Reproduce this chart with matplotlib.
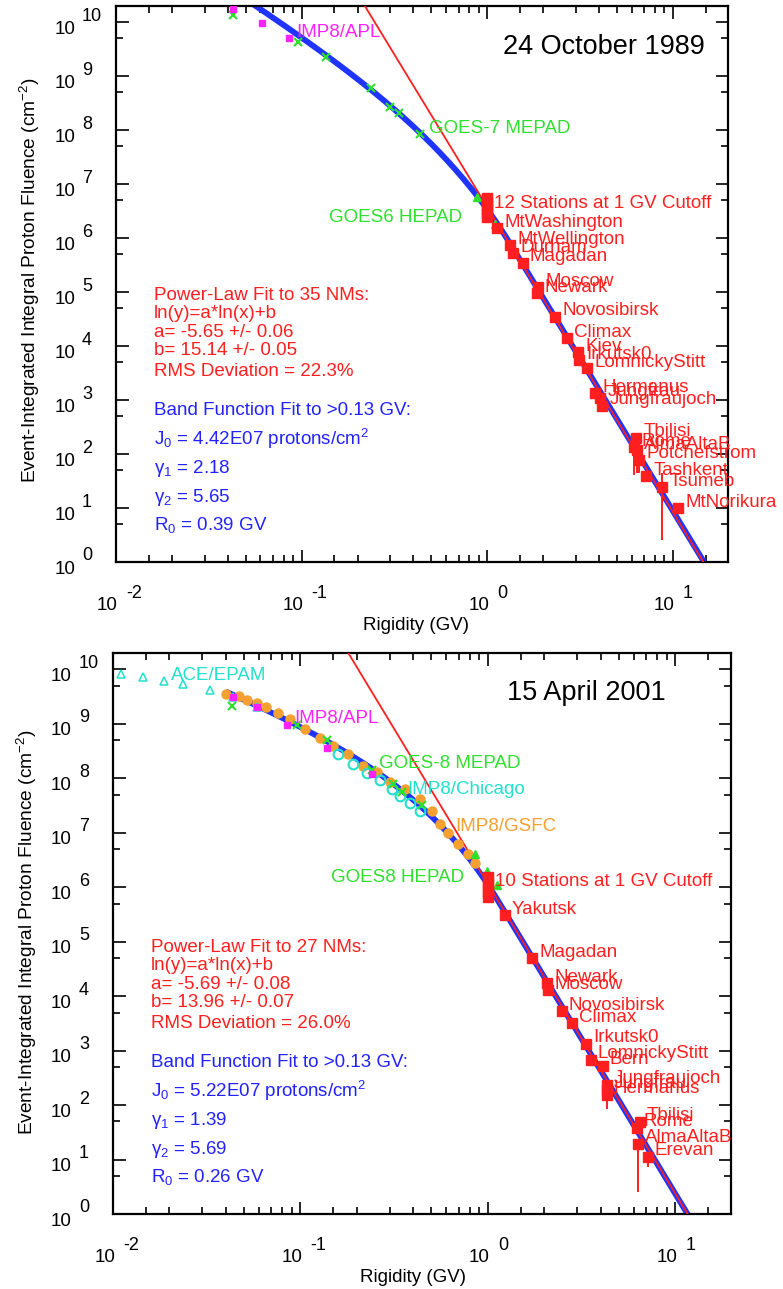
import numpy as np
import matplotlib
matplotlib.use('Agg')
import matplotlib.pyplot as plt
from matplotlib import transforms
from matplotlib.ticker import LogLocator, NullFormatter

plt.rcParams['font.family'] = ['Liberation Sans', 'DejaVu Sans']
plt.rcParams['mathtext.fontset'] = 'custom'
plt.rcParams['mathtext.rm'] = 'Liberation Sans'
plt.rcParams['mathtext.it'] = 'Liberation Sans'
plt.rcParams['mathtext.default'] = 'regular'

# ---------------- 24 October 1989 ----------------
ev1_title = '24 October 1989'
ev1_apl_r = [0.0428, 0.0612, 0.0857]
ev1_apl_f = [1.74e10, 9.6e9, 5.0e9]
ev1_mepad_r = [0.0428, 0.0957, 0.1355, 0.237, 0.30, 0.336, 0.435]
ev1_mepad_f = [1.35e10, 4.26e9, 2.24e9, 6.0e8, 2.7e8, 2.05e8, 8.5e7]
ev1_hepad_r = [0.883, 0.99, 1.10]
ev1_hepad_f = [5.7e6, 3.3e6, 1.8e6]
ev1_cut_f = [5.5e6, 4.6e6, 4.0e6, 3.4e6, 2.9e6, 2.5e6]   # stations at 1 GV
ev1_nm_names = ['MtWashington', 'MtWellington', 'Durham', 'Magadan', 'Moscow',
                'Newark', 'Novosibirsk', 'Climax', 'Kiev', 'Irkutsk0',
                'LomnickyStitt', 'Hermanus', 'Jungfrau', 'Jungfraujoch',
                'Tbilisi', 'Rome', 'AlmaAltaB', 'Potchefstrom', 'Tashkent',
                'Tsumeb', 'MtNorikura']
ev1_nm_r = [1.13, 1.33, 1.38, 1.55, 1.88, 1.86, 2.33, 2.70, 3.09, 3.13, 3.46,
            3.82, 4.06, 4.17, 6.35, 6.20, 6.44, 6.59, 7.19, 8.78, 10.7]
ev1_nm_f = [1.53e6, 7.4e5, 5.2e5, 3.5e5, 1.23e5, 9.5e4, 3.5e4, 1.4e4, 7.7e3,
            5.5e3, 3.9e3, 1.35e3, 1.1e3, 7.8e2, 2.0e2, 1.35e2, 1.18e2, 78,
            39, 24.5, 10]
ev1_nm_lo = [1.4e6, 6.9e5, 4.8e5, 3.2e5, 1.1e5, 8.8e4, 3.2e4, 1.3e4, 7.0e3,
             5.0e3, 3.6e3, 1.2e3, 1.0e3, 6.0e2, 1.7e2, 41, 45, 45, 33, 2.6, 9]
ev1_nm_hi = [1.66e6, 8.0e5, 5.6e5, 3.8e5, 1.35e5, 1.02e5, 3.8e4, 1.5e4, 8.4e3,
             6.0e3, 4.2e3, 1.5e3, 1.2e3, 8.6e2, 2.4e2, 1.5e2, 1.3e2, 86, 45,
             45, 11]
ev1_pl = dict(a=-5.65, b=15.14, da=0.06, db=0.05, n=35, rms=22.3)
ev1_band = dict(j0=4.42e7, g1=2.18, g2=5.65, r0=0.39)

# ---------------- 15 April 2001 ----------------
ev2_title = '15 April 2001'
ev2_ace_r = [0.0110, 0.01445, 0.0187, 0.0236, 0.0329, 0.0436, 0.0586]
ev2_ace_f = [8.1e9, 7.1e9, 6.0e9, 5.3e9, 4.1e9, 3.05e9, 2.08e9]
ev2_apl_r = [0.0436, 0.0586, 0.0847, 0.138, 0.24]
ev2_apl_f = [3.05e9, 2.08e9, 9.7e8, 3.66e8, 1.22e8]
ev2_mepad_r = [0.0431, 0.0957, 0.138, 0.24, 0.311, 0.347, 0.445]
ev2_mepad_f = [2.17e9, 9.7e8, 5.1e8, 1.44e8, 7.9e7, 5.7e7, 3.27e7]
ev2_chi_r = [0.1585, 0.1905, 0.226, 0.266, 0.308, 0.34, 0.384, 0.434]
ev2_chi_f = [2.84e8, 1.86e8, 1.27e8, 9.4e7, 6.4e7, 4.8e7, 3.56e7, 2.5e7]
ev2_gsfc_r = [0.0401, 0.047, 0.0519, 0.0586, 0.0655, 0.0759, 0.0879, 0.1057,
              0.127, 0.149, 0.179, 0.215, 0.256, 0.30, 0.36, 0.434, 0.502,
              0.555, 0.612, 0.692, 0.78, 0.853]
ev2_gsfc_f = [3.6e9, 3.18e9, 2.8e9, 2.37e9, 2.0e9, 1.55e9, 1.25e9, 7.9e8,
              5.6e8, 4.0e8, 2.84e8, 1.7e8, 1.32e8, 8.6e7, 6.4e7, 4.2e7, 2.5e7,
              1.46e7, 1.0e7, 6.3e6, 4.1e6, 2.8e6]
ev2_hepad_r = [0.853, 0.99, 1.12]
ev2_hepad_f = [4.1e6, 2.0e6, 1.1e6]
ev2_cut_f = [1.54e6, 1.25e6, 1.01e6, 8.2e5, 6.6e5]   # stations at 1 GV
ev2_nm_names = ['Yakutsk', 'Magadan', 'Newark', 'Moscow', 'Novosibirsk',
                'Climax', 'Irkutsk0', 'LomnickyStitt', 'Bern', 'Jungfraujoch',
                'Jungfrau', 'Hermanus', 'Tbilisi', 'Rome', 'AlmaAltaB', 'Erevan']
ev2_nm_r = [1.23, 1.72, 2.07, 2.09, 2.48, 2.81, 3.33, 3.54, 4.10, 4.31, 4.31,
            4.31, 6.47, 6.24, 6.31, 7.13]
ev2_nm_f = [3.08e5, 4.97e4, 1.72e4, 1.28e4, 5.25e3, 3.15e3, 1.35e3, 686, 532,
            238, 192, 156, 49.4, 38.4, 19.5, 11.2]
ev2_nm_lo = [2.8e5, 4.5e4, 1.55e4, 1.15e4, 4.7e3, 2.8e3, 1.2e3, 610, 470, 200,
             160, 85, 43, 33, 2.5, 7.3]
ev2_nm_hi = [3.4e5, 5.5e4, 1.9e4, 1.42e4, 5.8e3, 3.5e3, 1.5e3, 760, 600, 280,
             220, 180, 56, 44, 23, 13]
ev2_pl = dict(a=-5.69, b=13.96, da=0.08, db=0.07, n=27, rms=26.0)
ev2_band = dict(j0=5.22e7, g1=1.39, g2=5.69, r0=0.26)

RED = '#ff1f1f'
BLUE = '#2222ff'
GREEN = '#2ee02e'
MAG = '#ff22ff'
CYAN = '#22e0cc'
ORANGE = '#f5a030'
FS = 13.5


def band(r, j0, g1, g2, r0):
    rb = (g2 - g1) * r0
    low = j0 * r ** (-g1) * np.exp(-r / r0)
    high = j0 * rb ** (g2 - g1) * np.exp(g1 - g2) * r ** (-g2)
    return np.where(r <= rb, low, high)


def tag(ax, x, y, s, color, dx=7, dy=6, ha='left'):
    ax.annotate(s, (x, y), xytext=(dx * 0.72, dy * 0.72),
                textcoords='offset points', ha=ha, va='center',
                color=color, fontsize=FS, zorder=8)


def px_text(ax, dx, dy, s, **kw):
    # text placed dx, dy pixels from the lower-left corner of the axes
    tr = transforms.offset_copy(ax.transAxes, fig=fig, x=dx, y=dy, units='dots')
    ax.text(0, 0, s, transform=tr, **kw)


def frame(ax):
    ax.set_xscale('log')
    ax.set_yscale('log')
    ax.set_xlim(0.01, 19.8)
    ax.set_ylim(1, 2e10)
    ax.xaxis.set_major_locator(LogLocator(base=10, numticks=10))
    ax.xaxis.set_minor_locator(LogLocator(base=10, subs=[1.5, 2, 3, 4, 5, 6, 7, 8, 9], numticks=20))
    ax.yaxis.set_major_locator(LogLocator(base=10, numticks=20))
    ax.yaxis.set_minor_locator(LogLocator(base=10, subs=[5], numticks=20))
    ax.xaxis.set_minor_formatter(NullFormatter())
    ax.yaxis.set_minor_formatter(NullFormatter())
    ax.tick_params(which='both', direction='in', top=True, right=True,
                   labelbottom=False, labelleft=False, width=1.2, color='black')
    ax.tick_params(which='major', length=9)
    ax.tick_params(which='minor', length=5)
    for sp in ax.spines.values():
        sp.set_linewidth(1.6)
    # decade labels, drawn as "10" plus a raised exponent
    for e in range(-2, 2):
        base = transforms.offset_copy(ax.get_xaxis_transform(), fig=fig, x=2, y=-43, units='dots')
        ax.text(10.0 ** e, 0, '10', transform=base, ha='right', va='center', fontsize=13.5)
        expo = transforms.offset_copy(ax.get_xaxis_transform(), fig=fig, x=10, y=-31, units='dots')
        ax.text(10.0 ** e, 0, str(e), transform=expo, ha='left', va='center', fontsize=13)
    for e in range(0, 11):
        base = transforms.offset_copy(ax.get_yaxis_transform(), fig=fig, x=-41, y=-7, units='dots')
        ax.text(0, 10.0 ** e, '10', transform=base, ha='right', va='center', fontsize=13.5)
        expo = transforms.offset_copy(ax.get_yaxis_transform(), fig=fig, x=-34, y=6, units='dots')
        ax.text(0, 10.0 ** e, str(e), transform=expo, ha='left', va='center', fontsize=13)
    px_text(ax, 300, -63, 'Rigidity (GV)', ha='center', va='center', fontsize=13.5)
    px_text(ax, -86, 282, 'Event-Integrated Integral Proton Fluence (cm$^{-2}$)',
            rotation=90, ha='center', va='center', fontsize=13.8)


def fits(ax, pl, bd, ncut):
    r = np.geomspace(0.04, 25, 400)
    ax.plot(r, band(r, **bd), color='#1f35ff', lw=4.2, zorder=2, solid_capstyle='butt')
    r2 = np.geomspace(0.1, 25, 50)
    ax.plot(r2, np.exp(pl['b']) * r2 ** pl['a'], color=RED, lw=1.3, zorder=3)
    red_lines = ['Power-Law Fit to %d NMs:' % pl['n'], 'ln(y)=a*ln(x)+b',
                 'a= %.2f +/- %.2f' % (pl['a'], pl['da']),
                 'b= %.2f +/- %.2f' % (pl['b'], pl['db']),
                 'RMS Deviation = %.1f%%' % pl['rms']]
    blue_lines = ['Band Function Fit to >0.13 GV:',
                  'J$_0$ = %.2fE07 protons/cm$^2$' % (bd['j0'] / 1e7),
                  'γ$_1$ = %.2f' % bd['g1'],
                  'γ$_2$ = %.2f' % bd['g2'],
                  'R$_0$ = %.2f GV' % bd['r0']]
    for s, y in zip(red_lines, [262, 244, 225, 207, 186]):
        px_text(ax, 38, y, s, color=RED, fontsize=FS, va='baseline', ha='left')
    for s, y in zip(blue_lines, [147, 117, 89, 60, 32]):
        px_text(ax, 38, y, s, color=BLUE, fontsize=FS, va='baseline', ha='left')


def stations(ax, names, r, f, lo, hi, cut_f, ncut):
    r = np.array(r)
    f = np.array(f)
    err = [f - np.array(lo), np.array(hi) - f]
    ax.errorbar(r, f, yerr=err, fmt='s', color=RED, ms=6.5, elinewidth=1.4,
                capsize=0, zorder=6)
    ax.plot([1.0] * len(cut_f), cut_f, 's', color=RED, ms=6.5, zorder=6)
    tag(ax, 1.0, cut_f[len(cut_f) // 2], '%d Stations at 1 GV Cutoff' % ncut, RED)
    for n, x, y in zip(names, r, f):
        tag(ax, x, y, n, RED)


fig = plt.figure(figsize=(7.83, 12.89), dpi=100)
ax1 = fig.add_axes([116 / 783, 1 - 562 / 1289, 612 / 783, 556 / 1289])
ax2 = fig.add_axes([113 / 783, 1 - 1214 / 1289, 618 / 783, 561 / 1289])

# ---- top panel ----
frame(ax1)
fits(ax1, ev1_pl, ev1_band, 12)
ax1.plot(ev1_mepad_r, ev1_mepad_f, 'x', color=GREEN, ms=6, mew=1.5, zorder=5)
ax1.plot(ev1_apl_r, ev1_apl_f, 's', color=MAG, ms=5, zorder=5)
ax1.plot(ev1_hepad_r, ev1_hepad_f, '^', color=GREEN, ms=6, zorder=5)
tag(ax1, ev1_apl_r[2], ev1_apl_f[2], 'IMP8/APL', MAG)
tag(ax1, ev1_mepad_r[6], ev1_mepad_f[6], 'GOES-7 MEPAD', GREEN, dx=9)
tag(ax1, ev1_hepad_r[2], ev1_hepad_f[2], 'GOES6 HEPAD', GREEN, dx=-33, dy=7, ha='right')
stations(ax1, ev1_nm_names, ev1_nm_r, ev1_nm_f, ev1_nm_lo, ev1_nm_hi, ev1_cut_f, 12)
ax1.text(0.962, 0.926, ev1_title, transform=ax1.transAxes, ha='right', va='center', fontsize=19.5)

# ---- bottom panel ----
frame(ax2)
fits(ax2, ev2_pl, ev2_band, 10)
ax2.plot(ev2_ace_r, ev2_ace_f, '^', mfc='none', mec=CYAN, ms=6, mew=1.1, zorder=5)
ax2.plot(ev2_gsfc_r, ev2_gsfc_f, 'o', color=ORANGE, ms=6.5, zorder=4)
ax2.plot(ev2_chi_r, ev2_chi_f, 'o', mfc='none', mec=CYAN, ms=7, mew=1.5, zorder=5)
ax2.plot(ev2_mepad_r, ev2_mepad_f, 'x', color=GREEN, ms=6, mew=1.5, zorder=5)
ax2.plot(ev2_apl_r, ev2_apl_f, 's', color=MAG, ms=5, zorder=5)
ax2.plot(ev2_hepad_r, ev2_hepad_f, '^', color=GREEN, ms=6, zorder=5)
tag(ax2, ev2_ace_r[2], ev2_ace_f[2], 'ACE/EPAM', CYAN)
tag(ax2, ev2_apl_r[2], ev2_apl_f[2], 'IMP8/APL', MAG)
tag(ax2, ev2_mepad_r[3], ev2_mepad_f[3], 'GOES-8 MEPAD', GREEN)
tag(ax2, ev2_chi_r[5], ev2_chi_f[5], 'IMP8/Chicago', CYAN)
tag(ax2, ev2_gsfc_r[18], ev2_gsfc_f[18], 'IMP8/GSFC', ORANGE)
tag(ax2, ev2_hepad_r[2], ev2_hepad_f[2], 'GOES8 HEPAD', GREEN, dx=-33, dy=7, ha='right')
stations(ax2, ev2_nm_names, ev2_nm_r, ev2_nm_f, ev2_nm_lo, ev2_nm_hi, ev2_cut_f, 10)
ax2.text(0.895, 0.929, ev2_title, transform=ax2.transAxes, ha='right', va='center', fontsize=19.5)

fig.savefig('out.png', dpi=100)
